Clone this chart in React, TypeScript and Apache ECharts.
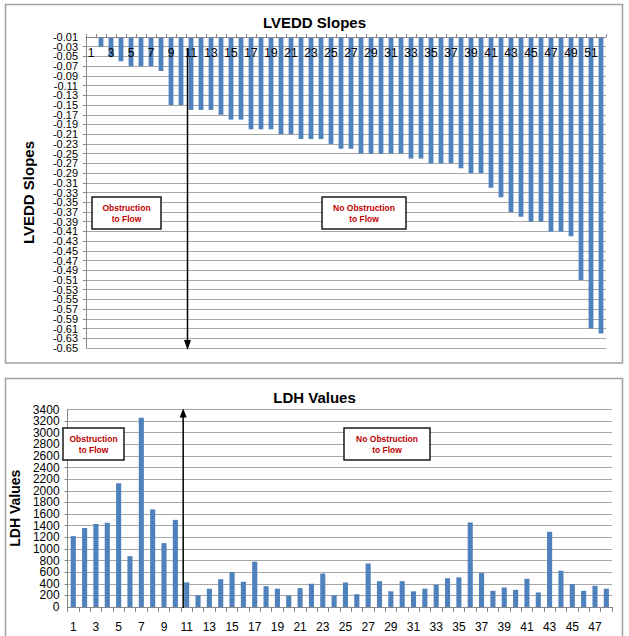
import React, { useEffect, useRef } from 'react';
import * as echarts from 'echarts';

// ---------- Data ----------
const lveddCategories = [
  '1', '2', '3', '4', '5', '6', '7', '8', '9', '10', '11', '12', '13',
  '14', '15', '16', '17', '18', '19', '20', '21', '22', '23', '24', '25', '26',
  '27', '28', '29', '30', '31', '32', '33', '34', '35', '36', '37', '38', '39',
  '40', '41', '42', '43', '44', '45', '46', '47', '48', '49', '50', '51', '52',
];
const lveddSlopes = [
  -0.01, -0.03, -0.05, -0.06, -0.07, -0.07, -0.07, -0.08, -0.15, -0.15, -0.16, -0.16, -0.16,
  -0.17, -0.18, -0.18, -0.2, -0.2, -0.2, -0.21, -0.21, -0.22, -0.22, -0.22, -0.23, -0.24,
  -0.24, -0.25, -0.25, -0.25, -0.25, -0.25, -0.26, -0.26, -0.27, -0.27, -0.27, -0.28, -0.29,
  -0.29, -0.32, -0.34, -0.37, -0.38, -0.39, -0.39, -0.41, -0.41, -0.42, -0.51, -0.61, -0.62,
];
const lveddAxisMin = -0.65;
const lveddAxisMax = -0.01;
const lveddAxisStep = 0.02;

const ldhCategories = [
  '1', '2', '3', '4', '5', '6', '7', '8', '9', '10', '11', '12',
  '13', '14', '15', '16', '17', '18', '19', '20', '21', '22', '23', '24',
  '25', '26', '27', '28', '29', '30', '31', '32', '33', '34', '35', '36',
  '37', '38', '39', '40', '41', '42', '43', '44', '45', '46', '47', '48',
];
const ldhValues = [
  1220, 1360, 1430, 1450, 2130, 875, 3260, 1680, 1100, 1500, 425, 200,
  315, 478, 600, 435, 780, 358, 315, 200, 325, 400, 575, 200,
  422, 220, 748, 445, 270, 445, 270, 315, 382, 495, 510, 1455,
  585, 278, 335, 295, 485, 250, 1295, 625, 395, 278, 365, 315,
];
const ldhAxisMin = 0;
const ldhAxisMax = 3400;
const ldhAxisStep = 200;

const boxLeftLines = ['Obstruction', 'to Flow'];
const boxRightLines = ['No Obstruction', 'to Flow'];

// ---------- Styles ----------
const FONT = "'Liberation Sans', Arial, sans-serif";
const BAR = '#4F81BD';
const AXIS = '#868686';
const GRID = '#A6A6A6';

const fmtSlope = (v: number) => v.toFixed(2);
const fmtLdh = (v: number) => String(Math.round(v));

export default function App() {
  const ref = useRef<HTMLDivElement>(null);

  useEffect(() => {
    document.body.style.margin = '0';
    if (!ref.current) return;
    const chart = echarts.init(ref.current, undefined, { renderer: 'svg' });

    const labelStyle = { fontFamily: FONT, fontSize: 12, color: '#000' };
    const option: any = {
      animation: false,
      backgroundColor: '#ffffff',
      title: [
        {
          text: 'LVEDD Slopes', left: 'center', top: 10,
          textStyle: { fontFamily: FONT, fontSize: 15, fontWeight: 'bold', color: '#000' },
        },
        {
          text: 'LDH Values', left: 'center', top: 385,
          textStyle: { fontFamily: FONT, fontSize: 15, fontWeight: 'bold', color: '#000' },
        },
      ],
      grid: [
        { left: 86, top: 37, width: 520, height: 311 },
        { left: 63, top: 409.5, width: 549, height: 197.5 },
      ],
      xAxis: [
        {
          type: 'category', gridIndex: 0, data: lveddCategories, position: 'top',
          z: 5,
          axisLine: { onZero: false, lineStyle: { color: AXIS } },
          axisTick: { show: true, interval: 0, length: 3, lineStyle: { color: AXIS } },
          axisLabel: { ...labelStyle, inside: true, interval: 1, margin: 10 },
          splitLine: { show: false },
        },
        {
          type: 'category', gridIndex: 1, data: ldhCategories, position: 'bottom',
          axisLine: { onZero: false, lineStyle: { color: AXIS } },
          axisTick: { show: true, interval: 0, length: 5, lineStyle: { color: AXIS } },
          axisLabel: { ...labelStyle, interval: 1, margin: 14 },
          splitLine: { show: false },
        },
      ],
      yAxis: [
        {
          type: 'value', gridIndex: 0,
          min: lveddAxisMin, max: lveddAxisMax, interval: lveddAxisStep,
          name: 'LVEDD Slopes', nameLocation: 'middle', nameGap: 50,
          nameTextStyle: { fontFamily: FONT, fontSize: 15, fontWeight: 'bold', color: '#000' },
          axisLine: { show: true, lineStyle: { color: AXIS } },
          axisTick: { show: true, length: 3, lineStyle: { color: AXIS } },
          axisLabel: {
            fontFamily: FONT, fontSize: 11, color: '#000', margin: 8,
            showMinLabel: false, showMaxLabel: false,
            formatter: fmtSlope,
          },
          splitLine: { show: true, lineStyle: { color: GRID, width: 1 } },
        },
        {
          type: 'value', gridIndex: 1,
          min: ldhAxisMin, max: ldhAxisMax, interval: ldhAxisStep,
          name: 'LDH Values', nameLocation: 'middle', nameGap: 38,
          nameTextStyle: { fontFamily: FONT, fontSize: 14, fontWeight: 'bold', color: '#000' },
          axisLine: { show: true, lineStyle: { color: AXIS } },
          axisTick: { show: true, length: 3, lineStyle: { color: AXIS } },
          axisLabel: {
            ...labelStyle, margin: 8,
            showMinLabel: false, showMaxLabel: false,
            formatter: fmtLdh,
          },
          splitLine: { show: true, lineStyle: { color: GRID, width: 1 } },
        },
      ],
      series: [
        {
          type: 'bar', xAxisIndex: 0, yAxisIndex: 0, data: lveddSlopes,
          barWidth: '48%', clip: true, itemStyle: { color: BAR },
        },
        {
          type: 'bar', xAxisIndex: 1, yAxisIndex: 1, data: ldhValues,
          barWidth: '45%', clip: true, itemStyle: { color: BAR },
        },
      ],
    };
    chart.setOption(option);

    // Positions derived from the axes' own scales
    const topX = (chart.convertToPixel({ xAxisIndex: 0 }, '11') as number) - 3.5;
    const botX = (chart.convertToPixel({ xAxisIndex: 1 }, '11') as number) - 3.5;
    const topY0 = chart.convertToPixel({ yAxisIndex: 0 }, lveddAxisMax) as number;
    const topBottomY = chart.convertToPixel({ yAxisIndex: 0 }, lveddAxisMin) as number;
    const botTopY = chart.convertToPixel({ yAxisIndex: 1 }, ldhAxisMax) as number;
    const botBaseY = chart.convertToPixel({ yAxisIndex: 1 }, ldhAxisMin) as number;
    const topAxisX = chart.convertToPixel({ xAxisIndex: 0 }, '1') as number - 5;
    const botAxisX = chart.convertToPixel({ xAxisIndex: 1 }, '1') as number - (549 / 48) / 2;

    // min/max tick labels of the value axes (ECharts would drop a neighbour when they crowd)
    const endLabel = (text: string, x: number, y: number, size: number) => ({
      type: 'text', z: 50, x, y,
      style: { text, align: 'right', verticalAlign: 'middle', fill: '#000', fontFamily: FONT, fontSize: size },
    });

    const boxText = (lines: string[], x: number, y: number) => ({
      type: 'text', z: 101, x, y,
      style: {
        text: lines.join('\n'), align: 'center', verticalAlign: 'middle',
        fill: '#C00000', fontFamily: FONT, fontSize: 8.5, fontWeight: 'bold', lineHeight: 11,
      },
    });
    const box = (x: number, y: number, w: number, h: number) => ({
      type: 'rect', z: 100, shape: { x, y, width: w, height: h },
      style: { fill: '#ffffff', stroke: '#1a1a1a', lineWidth: 1.5 },
    });

    chart.setOption({
      graphic: [
        { type: 'rect', z: -1, shape: { x: 5.5, y: 4.5, width: 617, height: 358.5 }, style: { fill: 'none', stroke: '#A0A0A0', lineWidth: 1.5 } },
        { type: 'rect', z: -1, shape: { x: 5.5, y: 378.5, width: 617, height: 300 }, style: { fill: 'none', stroke: '#A0A0A0', lineWidth: 1.5 } },
        endLabel(fmtSlope(lveddAxisMax), topAxisX - 8, topY0, 11),
        endLabel(fmtSlope(lveddAxisMin), topAxisX - 8, topBottomY, 11),
        endLabel(fmtLdh(ldhAxisMax), botAxisX - 8, botTopY, 12),
        endLabel(fmtLdh(ldhAxisMin), botAxisX - 8, botBaseY, 12),
        box(92, 197, 69, 32), boxText(boxLeftLines, 126.5, 213),
        box(322, 197, 84, 32), boxText(boxRightLines, 364, 213),
        box(63, 428, 61, 32), boxText(boxLeftLines, 93.5, 444),
        box(344, 428, 86, 32), boxText(boxRightLines, 387, 444),
        // top arrow (pointing down)
        { type: 'line', z: 102, shape: { x1: topX, y1: 48, x2: topX, y2: topBottomY - 6 }, style: { stroke: '#000', lineWidth: 1.5 } },
        { type: 'polygon', z: 102, shape: { points: [[topX - 3.5, topBottomY - 8], [topX + 3.5, topBottomY - 8], [topX, topBottomY + 2]] }, style: { fill: '#000' } },
        // bottom arrow (pointing up)
        { type: 'line', z: 102, shape: { x1: botX, y1: botBaseY + 1, x2: botX, y2: botTopY + 6 }, style: { stroke: '#000', lineWidth: 1.5 } },
        { type: 'polygon', z: 102, shape: { points: [[botX - 3.5, botTopY + 8], [botX + 3.5, botTopY + 8], [botX, botTopY - 1]] }, style: { fill: '#000' } },
      ],
    });

    return () => chart.dispose();
  }, []);

  return <div ref={ref} style={{ width: 629, height: 636 }} />;
}
